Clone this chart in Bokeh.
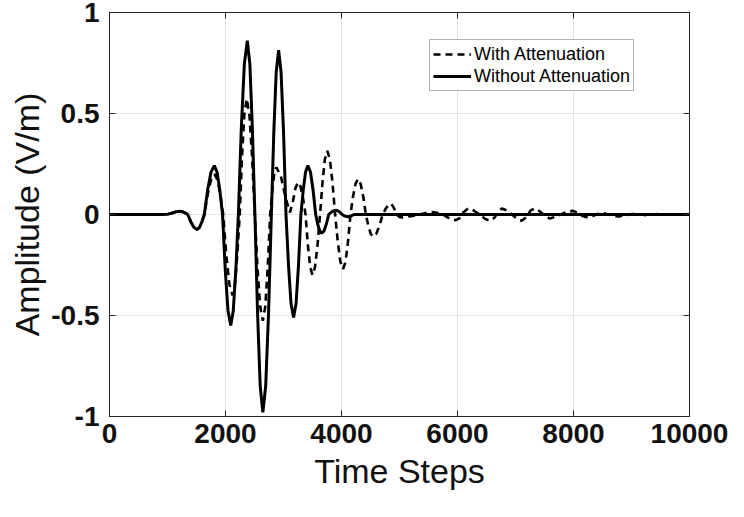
from bokeh.plotting import figure
from bokeh.models import FixedTicker, CustomJSTickFormatter, Range1d, LinearAxis
from bokeh.embed import file_html
from bokeh.resources import INLINE

# ---- data ----
t_without = [0, 900, 1000, 1070, 1140, 1208, 1255, 1303, 1350, 1403, 1457, 1510, 1552, 1593, 1635,
             1692, 1750, 1807, 1854, 1902, 1949, 1996, 2043, 2090, 2134, 2178, 2222,
             2273, 2325, 2376, 2420, 2463, 2507, 2553, 2598, 2644, 2693, 2742, 2791,
             2833, 2874, 2916, 2958, 3001, 3043, 3087, 3130, 3174, 3216, 3258, 3300,
             3340, 3380, 3420, 3465, 3510, 3555, 3589, 3624, 3658, 3699, 3739, 3780,
             3821, 3862, 3903, 3939, 3974, 4010, 4060, 4112, 4165, 4220, 10000]
a_without = [0, 0, 0.001, 0.006, 0.013, 0.016, 0.014, 0.008, 0, -0.037, -0.064, -0.074, -0.064, -0.037, 0,
             0.121, 0.21, 0.242, 0.21, 0.121, 0, -0.275, -0.476, -0.55, -0.476, -0.275, 0,
             0.43, 0.745, 0.86, 0.745, 0.43, 0, -0.49, -0.849, -0.98, -0.849, -0.49, 0,
             0.407, 0.705, 0.814, 0.705, 0.407, 0, -0.255, -0.442, -0.51, -0.442, -0.255, 0,
             0.121, 0.21, 0.242, 0.21, 0.121, 0, -0.047, -0.081, -0.093, -0.081, -0.047, 0,
             0.011, 0.018, 0.021, 0.018, 0.011, 0, -0.008, -0.011, -0.007, 0, 0]

t_with = [0, 900, 1000, 1070, 1140, 1208, 1255, 1303, 1350, 1403, 1457, 1510, 1552, 1593, 1635,
          1693, 1752, 1810, 1860, 1910, 1960, 2013, 2067, 2120, 2162, 2203, 2245,
          2285, 2325, 2365, 2412, 2458, 2505, 2551, 2598, 2644, 2686, 2728, 2770,
          2806, 2841, 2877, 2955, 3030, 3110, 3160, 3205, 3250, 3293, 3337, 3380,
          3420, 3460, 3500, 3543, 3587, 3630, 3672, 3713, 3755, 3800, 3845, 3890,
          3936, 3981, 4027, 4070, 4112, 4155, 4198, 4242, 4285, 4330, 4375, 4420,
          4462, 4503, 4545, 4600, 4655, 4710, 4758, 4807, 4855, 4900, 4950,
          5000, 5040, 5100, 5200, 5300, 5400, 5480, 5560, 5650, 5750,
          5860, 5966, 6030, 6100, 6180, 6280, 6380, 6480, 6564, 6640,
          6700, 6764, 6850, 6940, 7030, 7106, 7180, 7260, 7333, 7420,
          7500, 7590, 7680, 7780, 7880, 7988, 8080, 8160, 8245, 8330,
          8420, 8501, 8600, 8700, 8786, 8900, 9050, 9250, 9450, 9700, 10000]
a_with = [0, 0, 0.001, 0.006, 0.013, 0.016, 0.014, 0.008, 0, -0.037, -0.064, -0.074, -0.064, -0.037, 0,
          0.10, 0.173, 0.20, 0.173, 0.10, 0, -0.20, -0.346, -0.40, -0.346, -0.20, 0,
          0.287, 0.496, 0.573, 0.496, 0.287, 0, -0.263, -0.456, -0.526, -0.456, -0.263, 0,
          0.117, 0.202, 0.233, 0.19, 0.09, 0.01, 0.06, 0.13, 0.16, 0.139, 0.08, 0,
          -0.15, -0.26, -0.30, -0.26, -0.15, 0, 0.158, 0.273, 0.315, 0.273, 0.158, 0,
          -0.135, -0.234, -0.27, -0.234, -0.135, 0, 0.088, 0.152, 0.176, 0.152, 0.088, 0,
          -0.055, -0.095, -0.11, -0.095, -0.055, 0, 0.027, 0.047, 0.054, 0.035, 0,
          -0.012, -0.015, -0.012, -0.008, -0.003, 0.004, 0.010, 0.012, 0.008, 0.0,
          -0.02, -0.028, -0.02, 0.01, 0.03, 0.02, 0.0, -0.022, -0.031, -0.015,
          0.015, 0.03, 0.02, 0.0, -0.022, -0.031, -0.015, 0.02, 0.03, 0.015,
          -0.005, -0.02, -0.012, 0.0, 0.012, 0.018, 0.008, -0.008, -0.015, -0.008,
          0.003, 0.008, 0.0, -0.008, -0.01, -0.003, 0.004, -0.003, 0.002, 0, 0]

x_ticks = [0, 2000, 4000, 6000, 8000, 10000]
y_ticks = [-1, -0.5, 0, 0.5, 1]
x_label = "Time Steps"
y_label = "Amplitude (V/m)"
label_with = "With Attenuation"
label_without = "Without Attenuation"

FONT = "Liberation Sans"
AX = "#262626"

p = figure(frame_width=580, frame_height=404, output_backend="svg", toolbar_location=None,
           x_range=Range1d(0, 10000), y_range=Range1d(-1, 1))
p.min_border_left = 109
p.min_border_right = 39
p.min_border_top = 12
p.min_border_bottom = 85
p.background_fill_color = "white"
p.border_fill_color = "white"
p.outline_line_color = AX
p.outline_line_width = 1

p.line(t_with, a_with, line_color="black", line_width=2.6, line_dash="7 5",
       legend_label=label_with)
p.line(t_without, a_without, line_color="black", line_width=3,
       legend_label=label_without)

fmt = CustomJSTickFormatter(code="return tick.toString();")

for ax in p.xaxis:
    ax.ticker = FixedTicker(ticks=x_ticks)
    ax.formatter = fmt
    ax.axis_label = x_label
for ax in p.yaxis:
    ax.ticker = FixedTicker(ticks=y_ticks)
    ax.formatter = fmt
    ax.axis_label = y_label

for ax in list(p.xaxis) + list(p.yaxis):
    ax.major_tick_in = 6
    ax.major_tick_out = 0
    ax.minor_tick_line_color = None
    ax.major_tick_line_color = AX
    ax.axis_line_color = AX
    ax.major_label_text_font = FONT
    ax.major_label_text_font_style = "bold"
    ax.major_label_text_font_size = "28px"
    ax.major_label_text_color = "#111111"
    ax.axis_label_text_font = FONT
    ax.axis_label_text_font_style = "normal"
    ax.axis_label_text_font_size = "34px"
    ax.axis_label_text_color = "#111111"

p.xaxis.major_label_standoff = 7
p.xaxis.axis_label_standoff = 6
p.yaxis.major_label_standoff = 10
p.yaxis.axis_label_standoff = 2

# inward box ticks on top and right, labels not painted
for side, ticks in (("above", x_ticks), ("right", y_ticks)):
    ax = LinearAxis(ticker=FixedTicker(ticks=ticks), formatter=fmt)
    ax.major_tick_in = 6
    ax.major_tick_out = 0
    ax.minor_tick_line_color = None
    ax.major_tick_line_color = AX
    ax.axis_line_color = AX
    ax.major_label_text_color = None
    ax.major_label_text_font_size = "1px"
    ax.major_label_standoff = 0
    p.add_layout(ax, side)

p.xgrid.ticker = FixedTicker(ticks=x_ticks)
p.ygrid.ticker = FixedTicker(ticks=y_ticks)
p.xgrid.grid_line_color = "#e3e3e3"
p.ygrid.grid_line_color = "#e3e3e3"

lg = p.legend[0]
lg.location = (320, 325)
lg.label_text_font = FONT
lg.label_text_font_size = "18px"
lg.label_text_color = "black"
lg.glyph_width = 38
lg.glyph_height = 22
lg.label_height = 22
lg.label_standoff = 3
lg.padding = 3
lg.spacing = 0
lg.margin = 0
lg.border_line_color = "#666666"
lg.border_line_width = 1
lg.background_fill_color = "white"
lg.background_fill_alpha = 1

open("out.html", "w").write(file_html(p, INLINE))
